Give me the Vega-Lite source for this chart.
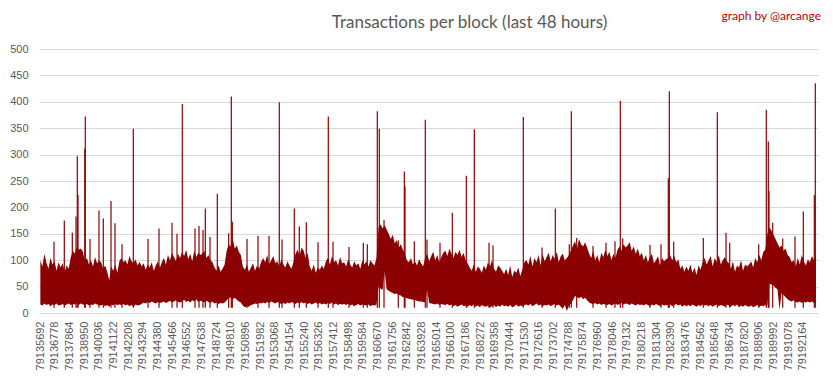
{
  "$schema": "https://vega.github.io/schema/vega-lite/v6.json",
  "autosize": {"type": "none"},
  "width": 779,
  "height": 264,
  "padding": {"left": 39, "top": 49, "right": 15, "bottom": 66},
  "background": "white",
  "config": {"view": {"stroke": null}, "font": "Liberation Sans"},
  "title": {"text": "Transactions per block (last 48 hours)", "anchor": "middle", "dx": 41, "offset": -22, "fontSize": 17, "fontWeight": "normal", "color": "#595959", "font": "Lato"},
  "datasets": {
    "band": [
      {"b":79135700,"l":16,"h":100},{"b":79135850,"l":14,"h":88},{"b":79136000,"l":18,"h":112},{"b":79136150,"l":15,"h":95},{"b":79136300,"l":17,"h":84},{"b":79136450,"l":13,"h":104},{"b":79136600,"l":16,"h":92},{"b":79136750,"l":15,"h":98},{"b":79136900,"l":18,"h":80},{"b":79137050,"l":14,"h":96},
      {"b":79137200,"l":15,"h":86},{"b":79137350,"l":17,"h":94},{"b":79137500,"l":14,"h":78},{"b":79137650,"l":16,"h":90},{"b":79137800,"l":18,"h":84},{"b":79137950,"l":15,"h":105},{"b":79138100,"l":17,"h":118},{"b":79138250,"l":16,"h":112},{"b":79138400,"l":19,"h":124},{"b":79138550,"l":15,"h":120},
      {"b":79138700,"l":18,"h":122},{"b":79138850,"l":16,"h":116},{"b":79139000,"l":15,"h":98},{"b":79139150,"l":17,"h":104},{"b":79139300,"l":14,"h":92},{"b":79139450,"l":16,"h":100},{"b":79139600,"l":15,"h":88},{"b":79139750,"l":18,"h":106},{"b":79139900,"l":16,"h":94},{"b":79140050,"l":15,"h":99},
      {"b":79140200,"l":14,"h":96},{"b":79140350,"l":16,"h":84},{"b":79140500,"l":13,"h":90},{"b":79140650,"l":15,"h":78},{"b":79140800,"l":12,"h":62},{"b":79140950,"l":16,"h":88},{"b":79141100,"l":14,"h":80},{"b":79141250,"l":17,"h":92},{"b":79141400,"l":15,"h":76},{"b":79141550,"l":16,"h":98},
      {"b":79141700,"l":15,"h":104},{"b":79141850,"l":17,"h":96},{"b":79142000,"l":14,"h":100},{"b":79142150,"l":16,"h":92},{"b":79142300,"l":13,"h":108},{"b":79142450,"l":15,"h":98},{"b":79142600,"l":12,"h":94},{"b":79142750,"l":16,"h":102},{"b":79142900,"l":14,"h":90},{"b":79143050,"l":15,"h":97},
      {"b":79143200,"l":17,"h":88},{"b":79143350,"l":20,"h":94},{"b":79143500,"l":18,"h":82},{"b":79143650,"l":21,"h":92},{"b":79143800,"l":19,"h":86},{"b":79143950,"l":22,"h":96},{"b":79144100,"l":20,"h":80},{"b":79144250,"l":18,"h":90},{"b":79144400,"l":21,"h":98},{"b":79144550,"l":19,"h":85},
      {"b":79144700,"l":20,"h":96},{"b":79144850,"l":22,"h":104},{"b":79145000,"l":19,"h":92},{"b":79145150,"l":21,"h":110},{"b":79145300,"l":23,"h":100},{"b":79145450,"l":20,"h":114},{"b":79145600,"l":22,"h":106},{"b":79145750,"l":24,"h":98},{"b":79145900,"l":21,"h":112},{"b":79146050,"l":20,"h":104},
      {"b":79146200,"l":22,"h":116},{"b":79146350,"l":25,"h":108},{"b":79146500,"l":21,"h":120},{"b":79146650,"l":23,"h":102},{"b":79146800,"l":20,"h":112},{"b":79146950,"l":24,"h":98},{"b":79147100,"l":22,"h":118},{"b":79147250,"l":26,"h":106},{"b":79147400,"l":21,"h":114},{"b":79147550,"l":23,"h":110},
      {"b":79147700,"l":22,"h":112},{"b":79147850,"l":20,"h":118},{"b":79148000,"l":23,"h":104},{"b":79148150,"l":21,"h":110},{"b":79148300,"l":19,"h":100},{"b":79148450,"l":22,"h":96},{"b":79148600,"l":18,"h":86},{"b":79148750,"l":20,"h":80},{"b":79148900,"l":17,"h":90},{"b":79149050,"l":19,"h":78},
      {"b":79149200,"l":18,"h":84},{"b":79149350,"l":20,"h":92},{"b":79149500,"l":24,"h":118},{"b":79149650,"l":28,"h":130},{"b":79149800,"l":30,"h":126},{"b":79149950,"l":26,"h":140},{"b":79150100,"l":29,"h":122},{"b":79150250,"l":25,"h":128},{"b":79150400,"l":22,"h":116},{"b":79150550,"l":20,"h":110},
      {"b":79150700,"l":14,"h":88},{"b":79150850,"l":11,"h":82},{"b":79151000,"l":13,"h":92},{"b":79151150,"l":12,"h":78},{"b":79151300,"l":15,"h":86},{"b":79151450,"l":16,"h":94},{"b":79151600,"l":18,"h":80},{"b":79151750,"l":17,"h":90},{"b":79151900,"l":19,"h":84},{"b":79152050,"l":18,"h":96},
      {"b":79152200,"l":20,"h":104},{"b":79152350,"l":18,"h":96},{"b":79152500,"l":21,"h":110},{"b":79152650,"l":19,"h":92},{"b":79152800,"l":22,"h":100},{"b":79152950,"l":20,"h":108},{"b":79153100,"l":18,"h":94},{"b":79153250,"l":21,"h":98},{"b":79153400,"l":19,"h":88},{"b":79153550,"l":17,"h":102},
      {"b":79153700,"l":19,"h":92},{"b":79153850,"l":17,"h":86},{"b":79154000,"l":20,"h":98},{"b":79154150,"l":18,"h":90},{"b":79154300,"l":21,"h":84},{"b":79154450,"l":19,"h":96},{"b":79154600,"l":17,"h":112},{"b":79154750,"l":20,"h":120},{"b":79154900,"l":18,"h":108},{"b":79155050,"l":21,"h":124},
      {"b":79155200,"l":18,"h":118},{"b":79155350,"l":20,"h":104},{"b":79155500,"l":17,"h":114},{"b":79155650,"l":19,"h":88},{"b":79155800,"l":16,"h":80},{"b":79155950,"l":18,"h":92},{"b":79156100,"l":20,"h":76},{"b":79156250,"l":17,"h":86},{"b":79156400,"l":19,"h":82},{"b":79156550,"l":16,"h":90},
      {"b":79156700,"l":18,"h":84},{"b":79156850,"l":16,"h":98},{"b":79157000,"l":19,"h":104},{"b":79157150,"l":17,"h":92},{"b":79157300,"l":20,"h":108},{"b":79157450,"l":16,"h":96},{"b":79157600,"l":18,"h":100},{"b":79157750,"l":15,"h":90},{"b":79157900,"l":17,"h":106},{"b":79158050,"l":16,"h":94},
      {"b":79158200,"l":17,"h":96},{"b":79158350,"l":15,"h":88},{"b":79158500,"l":18,"h":102},{"b":79158650,"l":14,"h":92},{"b":79158800,"l":16,"h":86},{"b":79158950,"l":13,"h":98},{"b":79159100,"l":15,"h":90},{"b":79159250,"l":17,"h":94},{"b":79159400,"l":14,"h":84},{"b":79159550,"l":16,"h":100},
      {"b":79159700,"l":15,"h":92},{"b":79159850,"l":14,"h":98},{"b":79160000,"l":16,"h":88},{"b":79160150,"l":13,"h":100},{"b":79160300,"l":15,"h":94},{"b":79160450,"l":14,"h":90},{"b":79160600,"l":16,"h":104},{"b":79160750,"l":50,"h":162},{"b":79160900,"l":46,"h":168},{"b":79161050,"l":44,"h":160},
      {"b":79161200,"l":80,"h":166},{"b":79161350,"l":45,"h":158},{"b":79161500,"l":42,"h":150},{"b":79161650,"l":40,"h":140},{"b":79161800,"l":38,"h":148},{"b":79161950,"l":36,"h":132},{"b":79162100,"l":37,"h":138},{"b":79162250,"l":34,"h":124},{"b":79162400,"l":33,"h":130},{"b":79162550,"l":30,"h":120},
      {"b":79162700,"l":30,"h":112},{"b":79162850,"l":28,"h":100},{"b":79163000,"l":27,"h":96},{"b":79163150,"l":26,"h":104},{"b":79163300,"l":25,"h":92},{"b":79163450,"l":24,"h":98},{"b":79163600,"l":23,"h":90},{"b":79163750,"l":22,"h":102},{"b":79163900,"l":22,"h":94},{"b":79164050,"l":21,"h":88},
      {"b":79164200,"l":20,"h":104},{"b":79164350,"l":44,"h":112},{"b":79164500,"l":19,"h":98},{"b":79164650,"l":18,"h":108},{"b":79164800,"l":17,"h":116},{"b":79164950,"l":16,"h":100},{"b":79165100,"l":18,"h":110},{"b":79165250,"l":15,"h":96},{"b":79165400,"l":17,"h":106},{"b":79165550,"l":16,"h":114},
      {"b":79165700,"l":15,"h":118},{"b":79165850,"l":17,"h":108},{"b":79166000,"l":14,"h":122},{"b":79166150,"l":16,"h":112},{"b":79166300,"l":13,"h":104},{"b":79166450,"l":15,"h":116},{"b":79166600,"l":12,"h":110},{"b":79166750,"l":14,"h":120},{"b":79166900,"l":16,"h":106},{"b":79167050,"l":13,"h":114},
      {"b":79167200,"l":14,"h":100},{"b":79167350,"l":12,"h":94},{"b":79167500,"l":15,"h":86},{"b":79167650,"l":13,"h":80},{"b":79167800,"l":16,"h":92},{"b":79167950,"l":12,"h":78},{"b":79168100,"l":14,"h":88},{"b":79168250,"l":11,"h":84},{"b":79168400,"l":15,"h":76},{"b":79168550,"l":13,"h":90},
      {"b":79168700,"l":12,"h":82},{"b":79168850,"l":14,"h":96},{"b":79169000,"l":10,"h":88},{"b":79169150,"l":13,"h":100},{"b":79169300,"l":15,"h":84},{"b":79169450,"l":11,"h":78},{"b":79169600,"l":14,"h":90},{"b":79169750,"l":12,"h":86},{"b":79169900,"l":16,"h":80},{"b":79170050,"l":13,"h":74},
      {"b":79170200,"l":14,"h":84},{"b":79170350,"l":12,"h":72},{"b":79170500,"l":15,"h":90},{"b":79170650,"l":11,"h":68},{"b":79170800,"l":13,"h":80},{"b":79170950,"l":16,"h":76},{"b":79171100,"l":12,"h":86},{"b":79171250,"l":14,"h":70},{"b":79171400,"l":13,"h":82},{"b":79171550,"l":15,"h":96},
      {"b":79171700,"l":16,"h":100},{"b":79171850,"l":14,"h":92},{"b":79172000,"l":17,"h":108},{"b":79172150,"l":13,"h":88},{"b":79172300,"l":15,"h":104},{"b":79172450,"l":18,"h":96},{"b":79172600,"l":14,"h":110},{"b":79172750,"l":16,"h":90},{"b":79172900,"l":13,"h":112},{"b":79173050,"l":15,"h":98},
      {"b":79173200,"l":14,"h":106},{"b":79173350,"l":16,"h":114},{"b":79173500,"l":13,"h":98},{"b":79173650,"l":15,"h":110},{"b":79173800,"l":17,"h":102},{"b":79173950,"l":14,"h":116},{"b":79174100,"l":16,"h":96},{"b":79174250,"l":12,"h":108},{"b":79174400,"l":8,"h":112},{"b":79174550,"l":15,"h":100},
      {"b":79174700,"l":4,"h":104},{"b":79174850,"l":14,"h":110},{"b":79175000,"l":18,"h":118},{"b":79175150,"l":24,"h":128},{"b":79175300,"l":32,"h":136},{"b":79175450,"l":30,"h":122},{"b":79175600,"l":28,"h":140},{"b":79175750,"l":31,"h":130},{"b":79175900,"l":26,"h":126},{"b":79176050,"l":29,"h":134},
      {"b":79176200,"l":24,"h":124},{"b":79176350,"l":20,"h":112},{"b":79176500,"l":18,"h":104},{"b":79176650,"l":17,"h":118},{"b":79176800,"l":19,"h":100},{"b":79176950,"l":16,"h":110},{"b":79177100,"l":18,"h":96},{"b":79177250,"l":15,"h":114},{"b":79177400,"l":17,"h":106},{"b":79177550,"l":16,"h":120},
      {"b":79177700,"l":15,"h":108},{"b":79177850,"l":17,"h":116},{"b":79178000,"l":14,"h":100},{"b":79178150,"l":16,"h":112},{"b":79178300,"l":18,"h":104},{"b":79178450,"l":15,"h":120},{"b":79178600,"l":17,"h":126},{"b":79178750,"l":19,"h":118},{"b":79178900,"l":16,"h":130},{"b":79179050,"l":18,"h":124},
      {"b":79179200,"l":17,"h":128},{"b":79179350,"l":15,"h":134},{"b":79179500,"l":18,"h":118},{"b":79179650,"l":16,"h":126},{"b":79179800,"l":14,"h":112},{"b":79179950,"l":17,"h":122},{"b":79180100,"l":15,"h":108},{"b":79180250,"l":16,"h":114},{"b":79180400,"l":14,"h":100},{"b":79180550,"l":17,"h":110},
      {"b":79180700,"l":15,"h":96},{"b":79180850,"l":13,"h":106},{"b":79181000,"l":16,"h":112},{"b":79181150,"l":14,"h":94},{"b":79181300,"l":17,"h":100},{"b":79181450,"l":15,"h":108},{"b":79181600,"l":13,"h":90},{"b":79181750,"l":16,"h":104},{"b":79181900,"l":14,"h":98},{"b":79182050,"l":15,"h":102},
      {"b":79182200,"l":14,"h":104},{"b":79182350,"l":16,"h":110},{"b":79182500,"l":13,"h":100},{"b":79182650,"l":15,"h":108},{"b":79182800,"l":17,"h":96},{"b":79182950,"l":14,"h":102},{"b":79183100,"l":16,"h":84},{"b":79183250,"l":12,"h":90},{"b":79183400,"l":15,"h":78},{"b":79183550,"l":13,"h":88},
      {"b":79183700,"l":15,"h":80},{"b":79183850,"l":13,"h":92},{"b":79184000,"l":16,"h":76},{"b":79184150,"l":14,"h":86},{"b":79184300,"l":12,"h":72},{"b":79184450,"l":15,"h":90},{"b":79184600,"l":13,"h":82},{"b":79184750,"l":16,"h":96},{"b":79184900,"l":14,"h":104},{"b":79185050,"l":15,"h":92},
      {"b":79185200,"l":13,"h":100},{"b":79185350,"l":15,"h":108},{"b":79185500,"l":12,"h":88},{"b":79185650,"l":14,"h":104},{"b":79185800,"l":16,"h":96},{"b":79185950,"l":13,"h":110},{"b":79186100,"l":15,"h":92},{"b":79186250,"l":14,"h":100},{"b":79186400,"l":12,"h":106},{"b":79186550,"l":16,"h":98},
      {"b":79186700,"l":14,"h":94},{"b":79186850,"l":12,"h":84},{"b":79187000,"l":15,"h":98},{"b":79187150,"l":13,"h":78},{"b":79187300,"l":16,"h":90},{"b":79187450,"l":11,"h":86},{"b":79187600,"l":14,"h":100},{"b":79187750,"l":12,"h":80},{"b":79187900,"l":15,"h":92},{"b":79188050,"l":13,"h":88},
      {"b":79188200,"l":12,"h":92},{"b":79188350,"l":14,"h":98},{"b":79188500,"l":11,"h":86},{"b":79188650,"l":13,"h":104},{"b":79188800,"l":15,"h":96},{"b":79188950,"l":12,"h":110},{"b":79189100,"l":14,"h":100},{"b":79189250,"l":13,"h":116},{"b":79189400,"l":15,"h":120},{"b":79189550,"l":14,"h":150},
      {"b":79189700,"l":56,"h":162},{"b":79189850,"l":54,"h":156},{"b":79190000,"l":52,"h":148},{"b":79190150,"l":48,"h":140},{"b":79190300,"l":45,"h":132},{"b":79190450,"l":6,"h":124},{"b":79190600,"l":38,"h":128},{"b":79190750,"l":34,"h":118},{"b":79190900,"l":30,"h":122},{"b":79191050,"l":26,"h":110},
      {"b":79191200,"l":23,"h":106},{"b":79191350,"l":22,"h":96},{"b":79191500,"l":24,"h":100},{"b":79191650,"l":21,"h":88},{"b":79191800,"l":20,"h":104},{"b":79191950,"l":22,"h":92},{"b":79192100,"l":19,"h":110},{"b":79192250,"l":21,"h":98},{"b":79192400,"l":20,"h":90},{"b":79192550,"l":22,"h":102},
      {"b":79192700,"l":20,"h":96},{"b":79192850,"l":22,"h":108},{"b":79193000,"l":19,"h":100},{"b":79193150,"l":21,"h":110}
    ],
    "spikes": [
      {"b":79136711,"p":135},{"b":79137474,"p":175},{"b":79138067,"p":152},{"b":79138341,"p":183},{"b":79138437,"p":297},{"b":79138489,"p":224},{"b":79138992,"p":311},{"b":79139029,"p":372},
      {"b":79139378,"p":140},{"b":79140044,"p":194},{"b":79140363,"p":179},{"b":79140933,"p":212},{"b":79141229,"p":170},{"b":79141748,"p":130},{"b":79142585,"p":349},{"b":79143674,"p":140},
      {"b":79144488,"p":160},{"b":79145451,"p":171},{"b":79145822,"p":150},{"b":79146214,"p":396},{"b":79147155,"p":160},{"b":79147451,"p":165},{"b":79147747,"p":157},{"b":79147918,"p":198},
      {"b":79148266,"p":144},{"b":79148807,"p":226},{"b":79149651,"p":151},{"b":79149844,"p":410},{"b":79149918,"p":173},{"b":79151007,"p":140},{"b":79151821,"p":146},{"b":79152636,"p":146},
      {"b":79153399,"p":399},{"b":79153599,"p":139},{"b":79154510,"p":198},{"b":79154880,"p":164},{"b":79155399,"p":172},{"b":79156266,"p":134},{"b":79157028,"p":372},{"b":79157377,"p":135},
      {"b":79158562,"p":125},{"b":79159621,"p":133},{"b":79159917,"p":130},{"b":79160658,"p":382},{"b":79160806,"p":349},{"b":79161154,"p":176},{"b":79162213,"p":138},{"b":79162658,"p":268},
      {"b":79162710,"p":240},{"b":79163399,"p":136},{"b":79164213,"p":366},{"b":79164339,"p":139},{"b":79165302,"p":133},{"b":79166213,"p":190},{"b":79167250,"p":260},{"b":79167843,"p":348},
      {"b":79168932,"p":133},{"b":79169228,"p":128},{"b":79171472,"p":371},{"b":79172857,"p":124},{"b":79173843,"p":198},{"b":79174879,"p":130},{"b":79175028,"p":382},{"b":79175427,"p":142},
      {"b":79176635,"p":127},{"b":79177598,"p":133},{"b":79178264,"p":136},{"b":79178657,"p":402},{"b":79178835,"p":141},{"b":79180857,"p":129},{"b":79181672,"p":130},{"b":79182212,"p":255},
      {"b":79182287,"p":420},{"b":79182612,"p":135},{"b":79184805,"p":142},{"b":79185842,"p":380},{"b":79186486,"p":152},{"b":79186760,"p":133},{"b":79188908,"p":130},{"b":79189471,"p":385},
      {"b":79189619,"p":325},{"b":79189671,"p":231},{"b":79189945,"p":171},{"b":79190686,"p":141},{"b":79191597,"p":145},{"b":79192212,"p":192},{"b":79193027,"p":223},{"b":79193101,"p":435}
    ],
    "note": [{"t": "graph by @arcange"}]
  },
  "layer": [
    {
      "data": {"name": "band"},
      "mark": {"type": "area", "color": "#8b0000", "interpolate": "linear", "opacity": 1},
      "encoding": {
        "x": {"field": "b", "type": "quantitative",
          "scale": {"domain": [79135600, 79193300], "nice": false, "zero": false},
          "axis": {"values": [79135692,79136778,79137864,79138950,79140036,79141122,79142208,79143294,79144380,79145466,79146552,79147638,79148724,79149810,79150896,79151982,79153068,79154154,79155240,79156326,79157412,79158498,79159584,79160670,79161756,79162842,79163928,79165014,79166100,79167186,79168272,79169358,79170444,79171530,79172616,79173702,79174788,79175874,79176960,79178046,79179132,79180218,79181304,79182390,79183476,79184562,79185648,79186734,79187820,79188906,79189992,79191078,79192164],
            "tickCount": 200, "format": "d", "labelAngle": -90, "labelFontSize": 11, "labelColor": "#595959", "ticks": false, "grid": false,
            "domainColor": "#d9d9d9", "title": null, "labelPadding": 8, "labelOverlap": false, "labelFlush": false, "labelBound": false}},
        "y": {"field": "l", "type": "quantitative",
          "scale": {"domain": [0, 500], "nice": false},
          "axis": {"values": [0,50,100,150,200,250,300,350,400,450,500], "tickCount": 20, "grid": true, "gridColor": "#d9d9d9", "domain": false, "ticks": false,
            "labelFontSize": 11, "labelColor": "#595959", "labelPadding": 11, "title": null}},
        "y2": {"field": "h"}
      }
    },
    {
      "data": {"name": "spikes"},
      "mark": {"type": "rule", "color": "#8b0000", "strokeWidth": 1.2},
      "encoding": {
        "x": {"field": "b", "type": "quantitative"},
        "y": {"field": "p", "type": "quantitative"},
        "y2": {"datum": 10}
      }
    },
    {
      "data": {"name": "note"},
      "mark": {"type": "text", "align": "right", "baseline": "alphabetic", "color": "#c00000", "fontSize": 12, "font": "Lato", "dx": 3},
      "encoding": {
        "text": {"field": "t"},
        "x": {"datum": 79193300, "type": "quantitative"},
        "y": {"datum": 555, "type": "quantitative"}
      }
    }
  ]
}
